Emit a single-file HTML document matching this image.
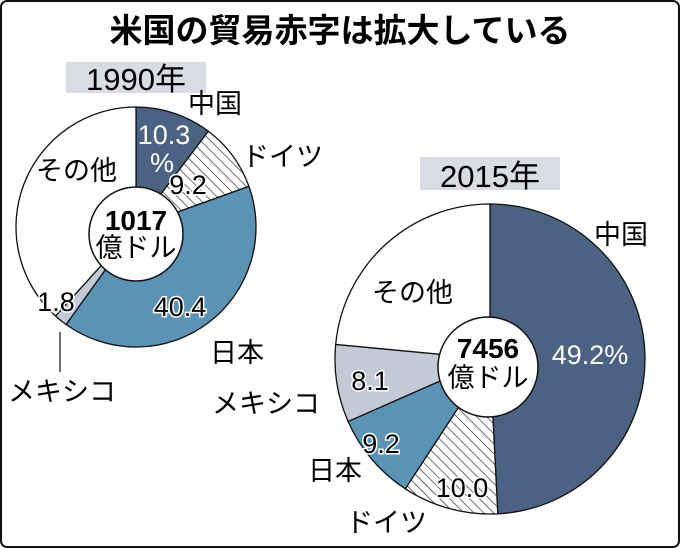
<!DOCTYPE html>
<html><head><meta charset="utf-8"><style>
body{margin:0;background:#fff}
svg{display:block}
text{font-family:"Liberation Sans","Noto Sans CJK JP",sans-serif}
.o{paint-order:stroke;stroke:#fff;stroke-width:3px}
</style></head><body>
<svg id="s" width="680" height="548" viewBox="0 0 680 548" xmlns="http://www.w3.org/2000/svg">
<defs>
<pattern id="h" width="7" height="7" patternUnits="userSpaceOnUse" patternTransform="rotate(-45)"><rect width="7" height="7" fill="#fff"/><line x1="0" y1="0" x2="0" y2="7" stroke="#222" stroke-width="1.3"/></pattern>
</defs>
<rect x="1" y="1" width="678" height="546" rx="6" fill="#fff" stroke="#111" stroke-width="2"/>
<text x="340" y="42" font-size="33" font-weight="bold" text-anchor="middle">米国の貿易赤字は拡大している</text>
<rect x="66" y="62" width="140" height="31" fill="#d9dce3"/>
<text x="136" y="90" font-size="31" text-anchor="middle">1990年</text>
<rect x="420" y="157" width="140" height="33" fill="#d9dce3"/>
<text x="490" y="187" font-size="31" text-anchor="middle">2015年</text>
<g id="p1"></g><g id="p2"></g>
<circle cx="136" cy="234" r="47" fill="#fff" stroke="#111" stroke-width="1.5"/>
<circle cx="488" cy="367" r="50" fill="#fff" stroke="#111" stroke-width="1.5"/>
<line x1="60" y1="332" x2="60" y2="372" stroke="#111" stroke-width="1.2"/>
<g font-size="27">
<text x="188" y="113">中国</text>
<text x="242" y="166">ドイツ</text>
<text x="36" y="180">その他</text>
<text x="164" y="144" fill="#fff" text-anchor="middle">10.3</text>
<text x="162" y="172" fill="#fff" text-anchor="middle">%</text>
<text x="188" y="194" text-anchor="middle" class="o">9.2</text>
<text x="136" y="230" text-anchor="middle" font-weight="bold" font-size="28">1017</text>
<text x="136" y="257" text-anchor="middle">億ドル</text>
<text x="56" y="311" text-anchor="middle" class="o">1.8</text>
<text x="180" y="316" text-anchor="middle" class="o">40.4</text>
<text x="210" y="362">日本</text>
<text x="8" y="401">メキシコ</text>
<text x="594" y="244">中国</text>
<text x="372" y="302">その他</text>
<text x="488" y="358" text-anchor="middle" font-weight="bold" font-size="28">7456</text>
<text x="488" y="387" text-anchor="middle">億ドル</text>
<text x="590" y="364" fill="#fff" text-anchor="middle">49.2%</text>
<text x="370" y="390" text-anchor="middle" class="o">8.1</text>
<text x="212" y="413">メキシコ</text>
<text x="381" y="453" text-anchor="middle" class="o">9.2</text>
<text x="308" y="480">日本</text>
<text x="462" y="497" text-anchor="middle" class="o">10.0</text>
<text x="346" y="532">ドイツ</text>
</g>
</svg>
<script>
function pie(g,cx,cy,r,data){
 var a=0,out='';
 data.forEach(function(d){
  var a1=a+d[0]*3.6, s=a*Math.PI/180, e=a1*Math.PI/180;
  var x0=cx+r*Math.sin(s),y0=cy-r*Math.cos(s),x1=cx+r*Math.sin(e),y1=cy-r*Math.cos(e);
  out+='<path d="M'+cx+' '+cy+'L'+x0+' '+y0+'A'+r+' '+r+' 0 '+((a1-a)>180?1:0)+' 1 '+x1+' '+y1+'Z" fill="'+d[1]+'" stroke="#111" stroke-width="1.3"/>';
  a=a1;});
 document.getElementById(g).innerHTML=out;
}
var N='#4b6283',J='#5b93b5',M='#c3c9d5',H='url(#h)',W='#fff';
pie('p1',136,227,120,[[10.3,N],[9.2,H],[40.4,J],[1.8,M],[38.3,W]]);
pie('p2',490,359,155,[[49.2,N],[10.0,H],[9.2,J],[8.1,M],[23.5,W]]);
</script>
</body></html>
